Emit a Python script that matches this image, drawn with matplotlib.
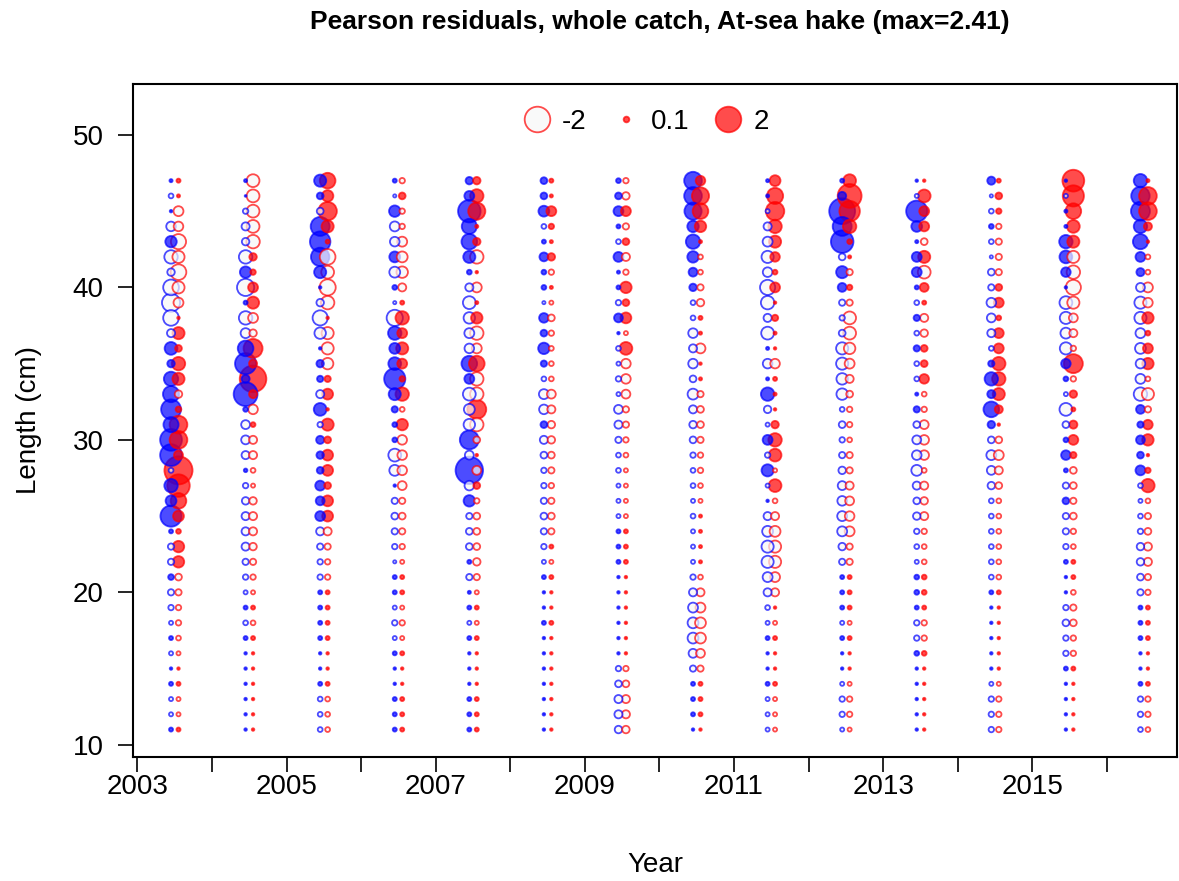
import numpy as np
import matplotlib.pyplot as plt
from matplotlib.lines import Line2D

plt.rcParams['font.family'] = ['Liberation Sans', 'DejaVu Sans']

years = list(range(2003, 2017))
lengths = list(range(47, 10, -1))   # 47 cm down to 11 cm
max_resid = 2.41

# Pearson residuals, one row per year, lengths 47 -> 11
blue_resid = [
    # 2003
    [0.03, -0.07, 0.02, -0.28, 0.4, -0.55, -0.17, -0.75, -1.0, -0.75,
     -0.2, 0.5, 0.17, 0.63, 0.8, 1.2, 0.7, 1.45, 1.45, -0.07,
     0.55, 0.36, 1.37, 0.05, -0.12, -0.12, 0.1, -0.12, -0.09, -0.05,
     0.05, -0.05, 0.02, 0.05, -0.05, -0.05, 0.05],
    # 2004
    [0.03, 0.01, -0.09, -0.2, -0.17, -0.55, 0.4, -0.9, 0.05, -0.55,
     -0.3, 0.75, 1.37, 0.2, 1.74, 0.07, -0.24, -0.24, -0.2, 0.04,
     -0.09, -0.17, -0.2, -0.2, -0.2, -0.12, -0.09, -0.05, 0.05, -0.07,
     0.05, 0.02, 0.02, 0.02, 0.02, 0.02, 0.02],
    # 2005
    [0.45, 0.14, -0.14, 1.1, 1.28, 1.04, 0.45, 0.02, -0.17, -0.7,
     -0.4, 0.02, 0.17, 0.12, -0.2, 0.5, -0.09, 0.2, 0.17, 0.14,
     0.3, 0.24, 0.3, -0.2, -0.12, -0.09, -0.09, 0.05, 0.05, 0.05,
     0.05, 0.02, 0.02, 0.05, -0.07, -0.07, -0.07],
    # 2006
    [0.05, -0.03, 0.4, -0.3, -0.28, 0.36, -0.36, 0.07, -0.03, -0.8,
     0.55, 0.36, 0.5, 1.37, 0.45, 0.12, 0.07, 0.07, -0.5, -0.36,
     0.02, -0.12, -0.14, -0.12, -0.09, -0.03, 0.05, 0.05, -0.05, -0.09,
     -0.05, 0.05, 0.02, 0.02, 0.05, 0.05, 0.05],
    # 2007
    [0.17, 0.3, 1.55, 0.7, 0.75, 0.45, 0.07, -0.2, -0.5, -0.4,
     -0.3, -0.28, 0.75, 0.3, -0.5, -0.36, -0.4, 1.1, -0.24, 2.3,
     -0.28, 0.4, -0.12, -0.14, -0.14, 0.05, -0.12, 0.03, 0.05, -0.05,
     0.05, 0.02, 0.02, 0.02, 0.05, 0.05, 0.05],
    # 2008
    [0.14, 0.14, 0.36, -0.07, 0.05, 0.24, 0.07, 0.07, -0.03, 0.28,
     0.14, 0.4, 0.12, -0.07, -0.3, -0.28, 0.14, -0.2, -0.14, -0.09,
     -0.09, -0.12, -0.14, -0.12, -0.09, -0.05, 0.05, 0.02, 0.02, 0.05,
     0.02, 0.02, 0.02, 0.02, 0.02, 0.02, 0.02],
    # 2009
    [0.07, 0.14, 0.3, 0.05, -0.07, 0.3, 0.03, 0.05, -0.09, 0.24,
     0.02, -0.07, -0.05, -0.09, -0.05, -0.24, -0.2, -0.12, -0.07, -0.07,
     -0.05, -0.05, -0.05, 0.05, 0.05, 0.05, 0.02, 0.02, 0.02, 0.02,
     0.02, 0.02, -0.09, -0.14, -0.2, -0.2, -0.17],
    # 2010
    [0.96, 0.96, 0.9, 0.4, 0.63, 0.4, 0.24, 0.17, -0.07, -0.07,
     -0.28, -0.2, -0.28, -0.14, -0.36, -0.2, -0.17, -0.14, -0.09, -0.07,
     -0.07, -0.05, -0.07, -0.05, -0.05, -0.05, -0.09, -0.2, -0.3, -0.36,
     -0.36, -0.24, -0.12, 0.05, 0.05, 0.05, 0.02],
    # 2011
    [0.03, 0.03, -0.05, -0.2, -0.3, -0.45, -0.28, -0.7, -0.55, -0.2,
     -0.5, 0.03, -0.28, 0.03, 0.55, -0.17, -0.05, 0.3, -0.09, 0.45,
     -0.05, 0.02, -0.2, -0.36, -0.45, -0.45, -0.3, -0.2, -0.07, -0.05,
     0.05, 0.02, 0.02, 0.05, -0.05, -0.05, -0.05],
    # 2012
    [0.05, 0.2, 2.05, 1.1, 1.55, -0.14, 0.45, 0.24, -0.12, -0.09,
     -0.14, -0.45, -0.45, -0.4, -0.4, -0.07, -0.14, -0.09, -0.12, -0.17,
     -0.24, -0.28, -0.3, -0.3, -0.17, -0.12, 0.05, 0.05, 0.05, -0.05,
     0.05, 0.02, 0.02, -0.05, -0.09, -0.09, -0.05],
    # 2013
    [0.02, -0.05, 1.37, 0.36, 0.03, 0.3, 0.3, 0.05, -0.07, 0.12,
     -0.07, 0.12, -0.07, -0.07, 0.03, 0.12, -0.14, -0.24, -0.28, -0.36,
     -0.2, -0.14, -0.17, -0.09, -0.07, -0.05, 0.07, 0.07, 0.05, -0.09,
     -0.09, 0.07, 0.02, 0.02, 0.02, 0.02, 0.02],
    # 2014
    [0.2, -0.03, -0.07, 0.07, -0.07, -0.03, -0.14, -0.12, -0.28, -0.24,
     -0.2, -0.07, 0.12, 0.55, 0.2, 0.75, 0.17, -0.14, -0.3, -0.24,
     -0.17, -0.07, -0.07, -0.07, -0.07, -0.07, -0.07, 0.05, 0.02, 0.02,
     0.02, 0.02, 0.02, -0.05, -0.09, -0.09, -0.09],
    # 2015
    [0.02, -0.05, 0.03, 0.03, 0.55, 0.5, 0.28, 0.02, -0.5, -0.45,
     -0.36, -0.45, 0.28, 0.07, -0.05, -0.5, -0.14, 0.07, 0.28, 0.05,
     -0.12, 0.14, -0.12, -0.12, -0.09, 0.05, 0.02, 0.02, -0.09, -0.14,
     -0.09, -0.09, 0.05, 0.02, 0.02, 0.02, 0.02],
    # 2016
    [0.55, 1.04, 1.1, 0.55, 0.7, 0.3, 0.2, -0.24, -0.45, -0.45,
     -0.3, -0.36, -0.28, -0.3, -0.55, 0.24, 0.12, 0.24, 0.14, 0.3,
     -0.07, -0.05, -0.07, -0.09, -0.17, -0.17, -0.14, -0.12, 0.05, 0.05,
     0.05, 0.02, 0.02, 0.05, -0.09, -0.09, -0.07],
]

red_resid = [
    # 2003
    [0.05, 0.03, -0.3, -0.28, -0.7, -0.45, -0.75, -0.45, -0.3, 0.02,
     0.45, 0.14, 0.55, 0.45, -0.17, 0.1, 0.96, 0.96, 0.25, 2.41,
     1.55, 0.75, 0.36, 0.07, 0.4, 0.4, -0.14, -0.12, -0.09, -0.09,
     -0.07, -0.05, 0.02, 0.05, -0.05, -0.05, 0.05],
    # 2004
    [-0.5, -0.5, -0.5, -0.5, -0.55, 0.17, 0.09, 0.3, 0.45, -0.3,
     -0.17, 1.1, 0.2, 2.16, 0.2, -0.28, 0.07, -0.2, -0.2, -0.07,
     -0.05, -0.17, -0.2, -0.2, -0.17, -0.12, -0.09, -0.05, 0.05, -0.07,
     0.05, 0.02, 0.02, 0.02, 0.02, 0.02, 0.02],
    # 2005
    [0.75, 0.4, 1.04, 0.45, 0.05, -0.75, -0.5, -0.8, -0.55, 0.02,
     -0.45, -0.45, -0.4, 0.12, 0.36, 0.02, 0.45, 0.14, 0.36, 0.36,
     0.14, 0.36, 0.36, -0.2, -0.12, -0.09, -0.09, 0.05, 0.05, 0.05,
     0.05, 0.02, 0.02, 0.05, -0.07, -0.07, -0.07],
    # 2006
    [-0.09, 0.14, -0.09, -0.09, -0.3, -0.36, -0.4, -0.2, 0.05, 0.55,
     0.3, 0.45, 0.3, 0.09, 0.55, -0.07, 0.4, -0.28, -0.28, -0.28,
     -0.24, -0.12, -0.14, -0.12, -0.09, -0.05, 0.05, 0.05, -0.05, -0.09,
     -0.05, 0.05, 0.02, 0.02, 0.05, 0.05, 0.05],
    # 2007
    [0.17, 0.55, 0.9, 0.03, 0.17, -0.55, 0.02, -0.3, 0.03, 0.4,
     -0.55, -0.3, 0.75, -0.55, -0.55, 1.1, -0.55, -0.14, 0.02, -0.24,
     0.14, -0.09, -0.14, -0.14, -0.14, -0.17, -0.12, -0.05, 0.05, -0.05,
     0.05, 0.02, 0.02, 0.02, 0.05, 0.05, 0.05],
    # 2008
    [0.05, 0.03, 0.3, 0.09, 0.03, 0.17, -0.09, 0.03, -0.05, -0.14,
     -0.09, -0.07, -0.07, -0.07, -0.24, -0.2, -0.17, -0.17, -0.14, -0.12,
     -0.09, -0.12, -0.14, -0.12, 0.05, -0.05, 0.05, 0.02, 0.02, 0.05,
     0.02, 0.02, 0.02, 0.02, 0.02, 0.02, 0.02],
    # 2009
    [-0.09, -0.17, 0.3, -0.12, 0.14, -0.2, -0.09, 0.4, 0.14, 0.36,
     -0.05, 0.5, -0.28, -0.28, -0.24, -0.12, -0.12, -0.09, -0.07, -0.05,
     -0.05, -0.05, -0.05, 0.05, 0.05, 0.05, 0.02, 0.02, 0.02, 0.02,
     0.02, 0.02, -0.09, -0.14, -0.2, -0.2, -0.17],
    # 2010
    [0.28, 0.9, 0.75, 0.4, 0.03, -0.07, -0.07, -0.12, -0.17, 0.05,
     0.03, -0.3, 0.02, 0.03, -0.12, -0.14, -0.14, -0.12, -0.09, -0.09,
     -0.07, -0.05, 0.03, 0.03, 0.03, 0.03, -0.07, -0.2, -0.3, -0.36,
     -0.36, -0.24, -0.12, 0.05, 0.05, 0.05, 0.02],
    # 2011
    [0.36, 0.8, 1.04, 0.55, 0.45, 0.28, 0.07, 0.3, 0.02, 0.12,
     0.03, 0.02, -0.28, 0.05, 0.03, 0.02, 0.17, 0.55, 0.5, -0.05,
     0.5, -0.07, -0.2, -0.36, -0.45, -0.45, -0.3, -0.2, 0.02, -0.05,
     0.05, 0.02, 0.02, 0.05, -0.05, -0.05, -0.05],
    # 2012
    [0.5, 1.74, 1.28, 0.55, 0.07, 0.03, -0.12, 0.09, -0.12, -0.5,
     -0.5, -0.4, -0.3, -0.2, -0.14, -0.09, -0.09, -0.07, -0.12, -0.12,
     -0.2, -0.24, -0.28, -0.3, -0.12, -0.12, 0.05, 0.05, 0.05, -0.05,
     0.05, 0.02, 0.02, -0.05, -0.09, -0.09, -0.05],
    # 2013
    [0.02, 0.5, 0.3, 0.3, -0.14, 0.45, -0.5, 0.24, 0.05, -0.2,
     -0.17, 0.14, 0.14, 0.28, -0.07, -0.09, -0.24, -0.28, -0.28, -0.07,
     -0.2, -0.17, -0.2, -0.09, -0.07, -0.07, 0.07, 0.07, 0.05, -0.09,
     -0.09, 0.07, 0.02, 0.02, 0.02, 0.02, 0.02],
    # 2014
    [0.05, 0.14, 0.09, -0.09, -0.12, -0.12, -0.12, 0.14, 0.3, 0.07,
     0.3, 0.3, 0.55, 0.55, 0.45, 0.2, 0.02, -0.14, -0.3, -0.2,
     -0.14, -0.07, -0.07, -0.07, -0.07, -0.07, -0.07, 0.05, 0.02, 0.02,
     0.02, 0.02, 0.02, -0.05, -0.09, -0.09, -0.09],
    # 2015
    [1.45, 1.37, 0.75, 0.5, 0.45, -0.45, -0.55, -0.7, -0.45, -0.24,
     -0.2, -0.09, 1.1, -0.09, 0.17, 0.05, 0.2, 0.3, 0.12, -0.14,
     -0.14, -0.12, -0.14, -0.09, -0.07, 0.05, 0.05, -0.07, -0.12, -0.14,
     -0.09, -0.09, 0.05, 0.02, 0.02, 0.02, 0.02],
    # 2016
    [0.03, 0.96, 0.96, 0.2, 0.02, -0.07, -0.07, -0.3, -0.28, 0.4,
     0.07, 0.3, 0.4, -0.07, -0.45, -0.12, 0.28, 0.4, 0.02, 0.09,
     0.55, -0.07, -0.12, -0.14, -0.2, -0.2, -0.12, -0.09, 0.05, 0.05,
     0.05, 0.02, 0.02, 0.05, -0.09, -0.09, -0.07],
]

blue_rgb = (0.0, 0.0, 1.0)
red_rgb = (1.0, 0.0, 0.0)
alpha = 0.7
open_fill = (0.97, 0.97, 0.97, 0.7)
scale = 170.0   # marker area (pt^2) per unit |residual|

xs, ys, zs, edge, face = [], [], [], [], []
for i, yr in enumerate(years):
    for resid, rgb, off in ((blue_resid[i], blue_rgb, 0.45),
                            (red_resid[i], red_rgb, 0.55)):
        for L, z in zip(lengths, resid):
            xs.append(yr + off)
            ys.append(L)
            zs.append(z)
            edge.append(rgb + (alpha,))
            face.append(rgb + (alpha,) if z > 0 else open_fill)

zs = np.array(zs)
order = np.argsort(-np.abs(zs))   # big bubbles first, small ones on top

fig = plt.figure(figsize=(11.79, 8.81), dpi=100)
ax = fig.add_axes([133 / 1179, 1 - 757 / 881, (1177 - 133) / 1179, (757 - 84) / 881])

ax.scatter(np.array(xs)[order], np.array(ys)[order], s=scale * np.abs(zs[order]),
           c=[face[k] for k in order], edgecolors=[edge[k] for k in order],
           linewidths=1.3)

ax.set_xlim(2002.94, 2016.94)
ax.set_ylim(9.2, 53.34)
ax.set_xticks(years)
ax.set_xticklabels([str(y) if y % 2 == 1 else '' for y in years])
ax.set_yticks([10, 20, 30, 40, 50])
ax.tick_params(direction='out', length=11, width=1.2, labelsize=20)
ax.tick_params(axis='x', pad=1)
ax.tick_params(axis='y', pad=10)
for sp in ax.spines.values():
    sp.set_linewidth(1.5)

ax.set_xlabel('Year', fontsize=20, labelpad=38)
ax.set_ylabel('Length (cm)', fontsize=20, labelpad=22)

# legend: -2 (open), 0.1, 2 (filled)
leg_vals = [-2, 0.1, 2]
handles = []
for v in leg_vals:
    handles.append(Line2D([], [], linestyle='none', marker='o',
                          markersize=np.sqrt(scale * abs(v)),
                          markerfacecolor=red_rgb + (alpha,) if v > 0 else open_fill,
                          markeredgecolor=red_rgb + (alpha,), markeredgewidth=1.3))
ax.legend(handles, [str(v) for v in leg_vals], loc='upper center', ncol=3,
          frameon=False, fontsize=20, bbox_to_anchor=(0.49, 1.0),
          handlelength=1.2, handletextpad=0.3, columnspacing=0.8, borderaxespad=0.5)

fig.text(660 / 1179, 1 - 22 / 881, 'Pearson residuals, whole catch, At-sea hake (max=2.41)',
         ha='center', va='center', fontsize=19, fontweight='bold')

plt.savefig('out.png', dpi=100)
